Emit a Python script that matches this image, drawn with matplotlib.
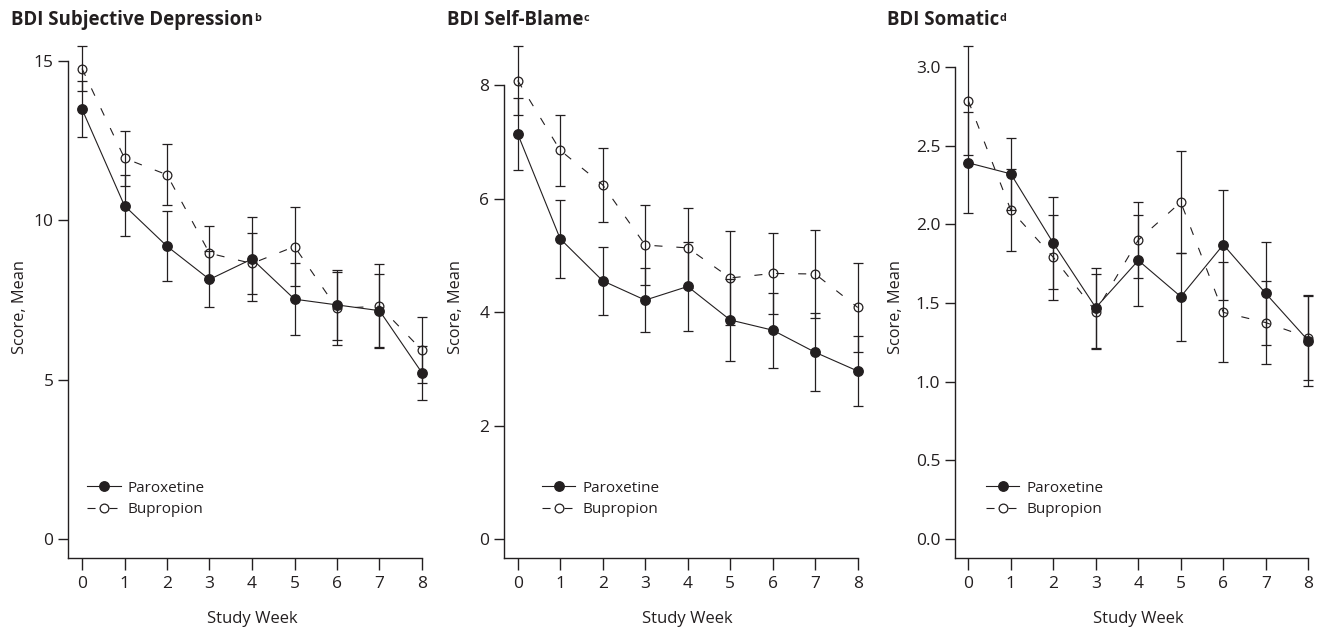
import matplotlib
matplotlib.use("Agg")
import matplotlib.pyplot as plt

plt.rcParams['font.family'] = ['Open Sans', 'DejaVu Sans']
plt.rcParams['lines.scale_dashes'] = False

INK = '#231f20'

weeks = [0, 1, 2, 3, 4, 5, 6, 7, 8]

subj_parox = [13.48, 10.45, 9.18, 8.14, 8.78, 7.52, 7.34, 7.16, 5.21]
subj_parox_err = [0.87, 0.96, 1.10, 0.88, 1.31, 1.13, 1.10, 1.15, 0.85]
subj_bup = [14.75, 11.94, 11.42, 8.96, 8.64, 9.17, 7.23, 7.30, 5.92]
subj_bup_err = [0.71, 0.86, 0.96, 0.85, 0.97, 1.25, 1.15, 1.31, 1.03]

blame_parox = [7.14, 5.29, 4.55, 4.21, 4.45, 3.86, 3.68, 3.29, 2.96]
blame_parox_err = [0.64, 0.69, 0.60, 0.56, 0.78, 0.72, 0.66, 0.69, 0.61]
blame_bup = [8.08, 6.85, 6.24, 5.18, 5.13, 4.60, 4.68, 4.67, 4.08]
blame_bup_err = [0.61, 0.63, 0.65, 0.70, 0.70, 0.83, 0.72, 0.77, 0.79]

som_parox = [2.39, 2.32, 1.88, 1.47, 1.77, 1.54, 1.87, 1.56, 1.26]
som_parox_err = [0.32, 0.23, 0.29, 0.255, 0.29, 0.28, 0.35, 0.33, 0.285]
som_bup = [2.785, 2.09, 1.79, 1.445, 1.90, 2.14, 1.44, 1.375, 1.28]
som_bup_err = [0.345, 0.26, 0.27, 0.24, 0.24, 0.325, 0.317, 0.265, 0.272]

titles = ['BDI Subjective Depression', 'BDI Self-Blame', 'BDI Somatic']
title_sups = ['b', 'c', 'd']
yticks_list = [[0, 5, 10, 15], [0, 2, 4, 6, 8], [0.0, 0.5, 1.0, 1.5, 2.0, 2.5, 3.0]]
yticklabels_list = [['0', '5', '10', '15'], ['0', '2', '4', '6', '8'],
                    ['0.0', '0.5', '1.0', '1.5', '2.0', '2.5', '3.0']]
ylims = [(-0.605, 15.96), (-0.34, 8.97), (-0.1225, 3.234)]
series = [
    (subj_parox, subj_parox_err, subj_bup, subj_bup_err),
    (blame_parox, blame_parox_err, blame_bup, blame_bup_err),
    (som_parox, som_parox_err, som_bup, som_bup_err),
]

W, H = 1319, 630
fig = plt.figure(figsize=(W / 100, H / 100), dpi=100)

# layout in pixels
ax_left_px = [68.3, 504.0, 955.0]
x0_px = [82.0, 517.7, 968.3]
px_per_week = 42.5
bottom_px = 558.3
top_px = 30.0
xmax = 8.2
title_x_px = [11, 446.7, 886.7]
ylabel_x_px = [19.5, 456.5, 895.8]
legend_x_px = [87.0, 541.7, 985.7]

for i in range(3):
    left = ax_left_px[i]
    xmin = -(x0_px[i] - left) / px_per_week
    right = x0_px[i] + xmax * px_per_week
    width = right - left
    axh = bottom_px - top_px
    ax = fig.add_axes([left / W, 1 - bottom_px / H, width / W, axh / H])
    p, pe, b, be = series[i]

    eb_kw = dict(color=INK, elinewidth=0.9, capsize=3.6, capthick=0.9, clip_on=False)
    eb1 = ax.errorbar(weeks, b, yerr=be, fmt='o', ls=(0, (5.8, 10.0)), lw=0.8,
                      ms=6.3, mfc='none', mec=INK, mew=0.9, **eb_kw)
    eb0 = ax.errorbar(weeks, p, yerr=pe, fmt='o', ls='-', lw=0.8,
                      ms=6.8, mfc=INK, mec=INK, **eb_kw)

    ax.set_xlim(xmin, xmax)
    ax.set_ylim(*ylims[i])
    ax.set_xticks(weeks)
    ax.set_xticklabels([str(w) for w in weeks])
    ax.set_yticks(yticks_list[i])
    ax.set_yticklabels(yticklabels_list[i])
    for s in ['top', 'right']:
        ax.spines[s].set_visible(False)
    ax.spines['left'].set_bounds(ylims[i][0], yticks_list[i][-1])
    ax.spines['bottom'].set_bounds(xmin, 8)
    for s in ['left', 'bottom']:
        ax.spines[s].set_linewidth(1.0)
        ax.spines[s].set_color(INK)
    ax.tick_params(axis='y', direction='out', length=7.2, width=1.0, pad=3.4,
                   labelsize=12.5, colors=INK)
    ax.tick_params(axis='x', direction='out', length=8.4, width=1.0, pad=4.5,
                   labelsize=12.5, colors=INK)

    ax.set_xlabel('Study Week', fontsize=12, color=INK, va='center')
    ax.xaxis.set_label_coords((x0_px[i] + 4 * px_per_week - left) / width,
                              -(619 - bottom_px) / axh)
    ax.set_ylabel('Score, Mean', fontsize=11.8, color=INK, va='center')
    ax.yaxis.set_label_coords(-(left - ylabel_x_px[i]) / width,
                              (bottom_px - 306.5) / axh)

    handles = [eb0.lines[0], eb1.lines[0]]
    leg = ax.legend(handles=handles, labels=['Paroxetine', 'Bupropion'],
                    loc='center left',
                    bbox_to_anchor=((legend_x_px[i] - left) / width,
                                    (bottom_px - 499) / axh),
                    frameon=False, fontsize=11, handlelength=2.2,
                    handletextpad=0.45, labelspacing=0.42, borderpad=0,
                    borderaxespad=0, numpoints=1)
    for t in leg.get_texts():
        t.set_color(INK)

    t = fig.text(title_x_px[i] / W, 1 - 25 / H, titles[i], fontsize=13.4,
                 fontweight='bold', color=INK, ha='left', va='baseline')
    fig.canvas.draw()
    bb = t.get_window_extent()
    fig.text((bb.x1 + 0.5) / W, (H - 25 + 4.3) / H, title_sups[i], fontsize=7.8,
             fontweight='bold', color=INK, ha='left', va='baseline')

fig.savefig('out.png', dpi=100)
